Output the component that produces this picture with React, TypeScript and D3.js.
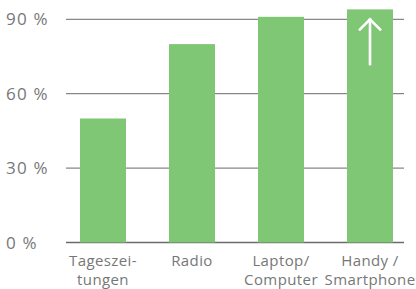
import React from "react";
import * as d3 from "d3";

const categories = ["Tageszeitungen", "Radio", "Laptop/Computer", "Handy/Smartphone"];
const labelLines = [["Tageszei-", "tungen"], ["Radio"], ["Laptop/", "Computer"], ["Handy /", "Smartphone"]];
const values = [50, 80, 91, 94];
const yTicks = [0, 30, 60, 90];
const yTickLabels = ["0 %", "30 %", "60 %", "90 %"];

const W = 416;
const H = 289;
const FONT = "'Open Sans', sans-serif";
const GREEN = "#80c775";
const GRID = "#6b6b6b";
const TEXT = "#777777";

export default function App() {
  const y = d3.scaleLinear().domain([0, 90]).range([242.5, 19.3]);
  const x = d3
    .scaleBand<string>()
    .domain(categories)
    .range([58.5, 414.5])
    .paddingInner(0.483)
    .paddingOuter(0.2415);
  const bw = x.bandwidth();
  const last = categories[categories.length - 1];
  const ax = (x(last) ?? 0) + bw / 2;
  const aTop = y(values[values.length - 1]) + 9;
  const aBot = y(values[values.length - 1]) + 56;

  return (
    <div style={{ position: "absolute", left: 0, top: 0 }}>
      <svg width={W} height={H} style={{ display: "block" }}>
        <rect x={0} y={0} width={W} height={H} fill="#fff" />
        {yTicks.map((t, i) => (
          <g key={t}>
            <line
              x1={66}
              x2={404}
              y1={y(t)}
              y2={y(t)}
              stroke={GRID}
              strokeWidth={t === 0 ? 1.4 : 1}
            />
            <text
              x={6}
              y={y(t)}
              dy="0.36em"
              fontFamily={FONT}
              fontSize={17}
              letterSpacing={1.2}
              fill={TEXT}
            >
              {yTickLabels[i]}
            </text>
          </g>
        ))}
        {categories.map((c, i) => (
          <rect
            key={c}
            x={x(c)}
            y={y(values[i])}
            width={bw}
            height={y(0) - y(values[i])}
            fill={GREEN}
          />
        ))}
        <g stroke="#fff" strokeWidth={2.6} fill="none" strokeLinecap="butt">
          <line x1={ax} x2={ax} y1={aTop} y2={aBot} />
          <polyline
            points={`${ax - 11},${aTop + 12} ${ax},${aTop + 1} ${ax + 11},${aTop + 12}`}
          />
        </g>
        {categories.map((c, i) => (
          <text
            key={c}
            x={(x(c) ?? 0) + bw / 2}
            y={266}
            textAnchor="middle"
            fontFamily={FONT}
            fontSize={15}
            letterSpacing={0.4}
            fill={TEXT}
          >
            {labelLines[i].map((l, j) => (
              <tspan key={j} x={(x(c) ?? 0) + bw / 2} dy={j === 0 ? 0 : 19}>
                {l}
              </tspan>
            ))}
          </text>
        ))}
      </svg>
    </div>
  );
}
